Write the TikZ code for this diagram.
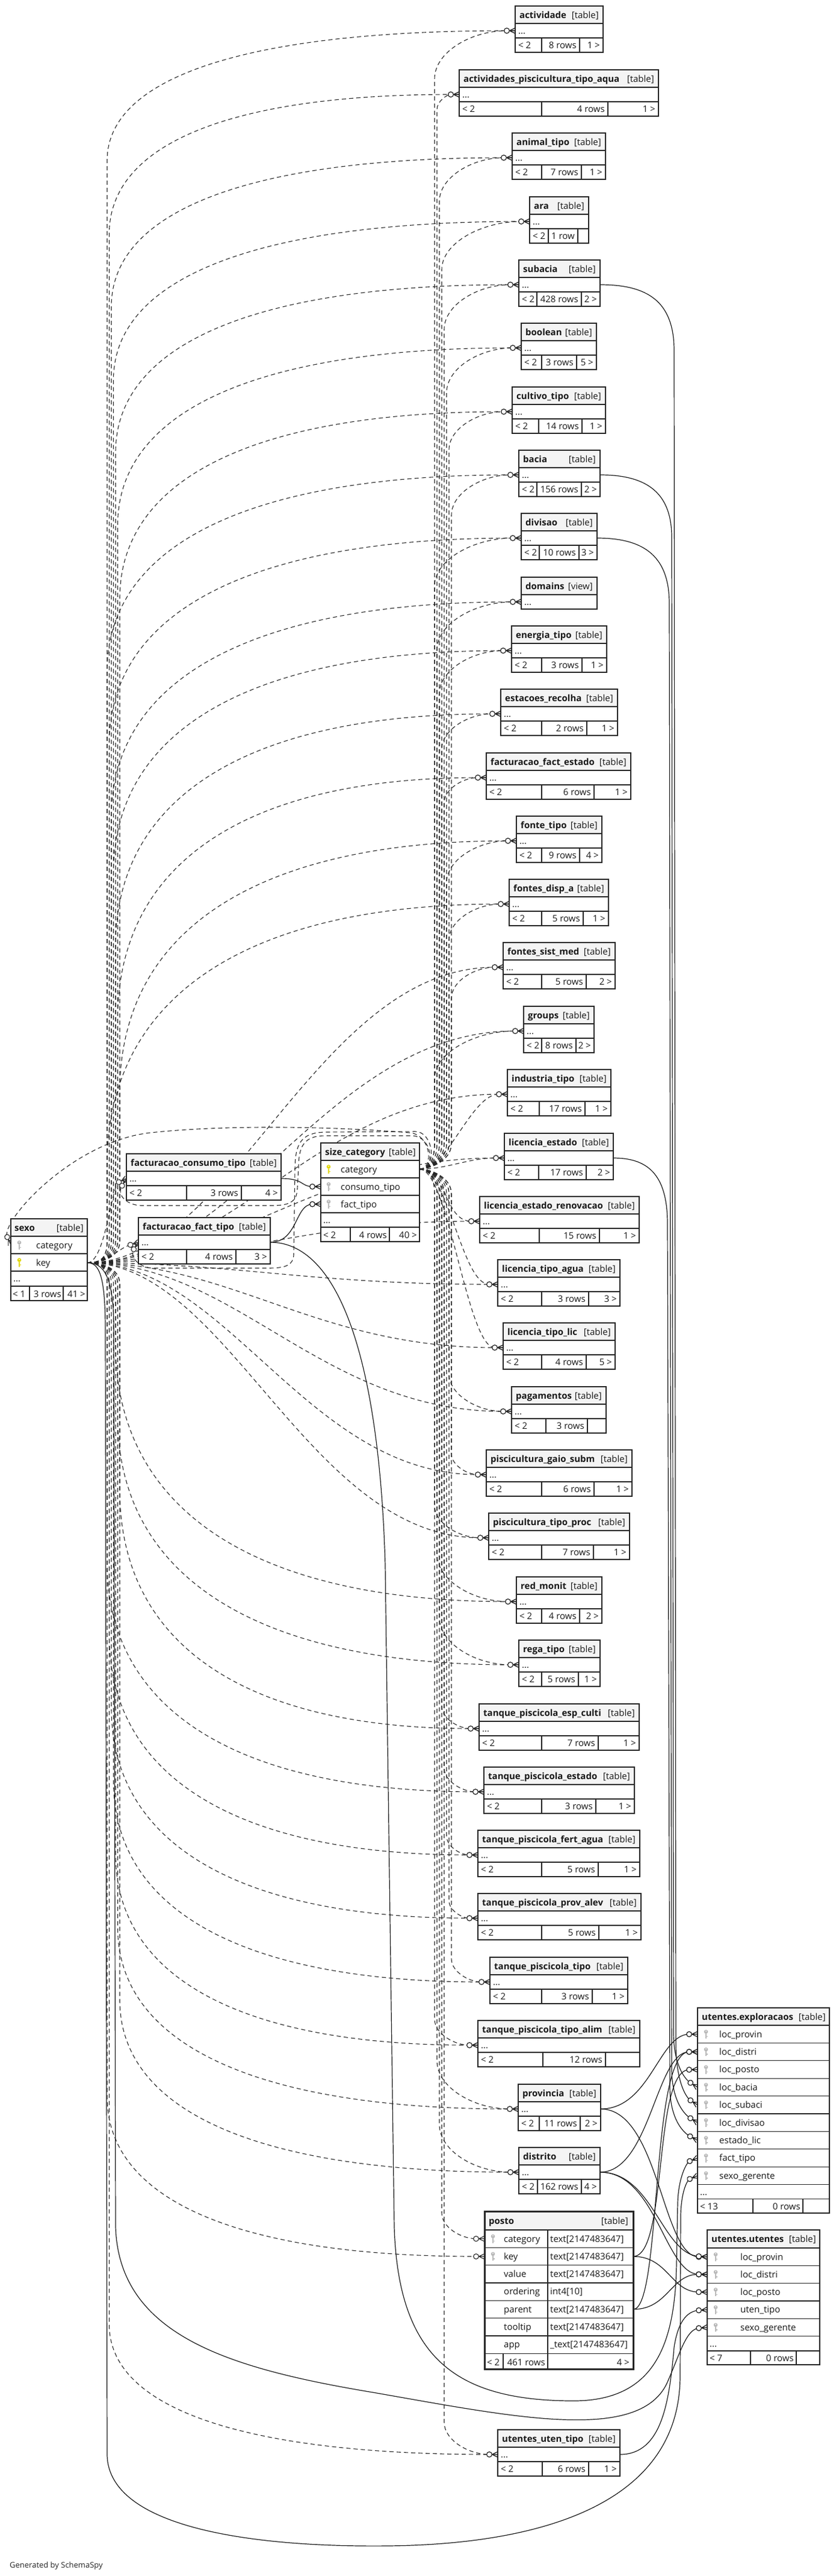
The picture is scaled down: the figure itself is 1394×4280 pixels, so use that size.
\documentclass[tikz,border=0pt]{standalone}
\usepackage{fontspec}
\setmainfont{Open Sans}
\usetikzlibrary{arrows.meta}
\definecolor{keyyel}{RGB}{225,215,0}
\definecolor{keygray}{RGB}{185,185,185}
\definecolor{hdr}{RGB}{244,244,244}
\pgfdeclarelayer{bg}
\pgfdeclarelayer{edges}
\pgfsetlayers{bg,edges,main}
\pgfdeclarearrow{
  name = CrowO,
  setup code = {
    \pgfarrowssettipend{0pt}
    \pgfarrowssetbackend{-18.5pt}
    \pgfarrowssetlineend{-14pt}
    \pgfarrowshullpoint{0pt}{4.5pt}
    \pgfarrowshullpoint{0pt}{-4.5pt}
    \pgfarrowshullpoint{-18.5pt}{4.5pt}
    \pgfarrowshullpoint{-18.5pt}{-4.5pt}
  },
  drawing code = {
    \pgfsetdash{}{0pt}
    \pgfpathmoveto{\pgfqpoint{-9.5pt}{0pt}}\pgfpathlineto{\pgfqpoint{0pt}{4.5pt}}
    \pgfpathmoveto{\pgfqpoint{-9.5pt}{0pt}}\pgfpathlineto{\pgfqpoint{0pt}{-4.5pt}}
    \pgfpathmoveto{\pgfqpoint{-9.5pt}{0pt}}\pgfpathlineto{\pgfqpoint{0pt}{0pt}}
    \pgfusepathqstroke
    \pgfpathcircle{\pgfqpoint{-14pt}{0pt}}{4.3pt}
    \pgfsetfillcolor{white}
    \pgfusepathqfillstroke
  }
}
\tikzset{
  tline/.style={draw=black!85, line width=1.3pt},
  txt/.style={inner sep=0pt, font=\fontsize{15}{18}\selectfont, text=black!90},
  ttl/.style={inner sep=0pt, font=\fontsize{15}{18}\selectfont\bfseries, text=black!90},
  imp/.style={draw=black!85, line width=1.1pt, dash pattern=on 7pt off 5pt, -{CrowO[]}},
  fk/.style={draw=black!90, line width=1.2pt, -{CrowO[]}},
}
\newcommand\keyicon[3]{%
  \draw[#3, line width=2pt] (#1,{#2-1}) -- (#1,{#2+7});
  \draw[#3, line width=1.5pt] (#1,{#2+4}) -- ({#1+2.5},{#2+4});
  \fill[#3] (#1,{#2-4}) circle (3.3);
  \fill[white] (#1,{#2-5}) circle (1);
}
% #1 name #2 title #3 left #4 right #5 top #6 s1 #7 s2 #8 mid #9 right
\newcommand\stbl[9]{%
  \fill[white] (#3,#5) rectangle (#4,{#5+77});
  \fill[hdr] (#3,#5) rectangle (#4,{#5+29});
  \draw[tline] (#3,#5) rectangle (#4,{#5+77});
  \draw[tline] (#3,{#5+29}) -- (#4,{#5+29});
  \draw[tline] (#3,{#5+53}) -- (#4,{#5+53});
  \draw[tline] (#6,{#5+53}) -- (#6,{#5+77});
  \draw[tline] (#7,{#5+53}) -- (#7,{#5+77});
  \node[ttl,anchor=base west] (#1) at ({#3+7},{#5+20}) {#2};
  \node[txt,anchor=base east] (#1-k) at ({#4-7},{#5+20}) {[table]};
  \node[txt,anchor=base west] (#1-d) at ({#3+5},{#5+46}) {...};
  \node[txt,anchor=base west] (#1-f1) at ({#3+5},{#5+70}) {< 2};
  \node[txt,anchor=base east] (#1-f2) at ({#7-5},{#5+70}) {#8};
  \node[txt,anchor=base east] (#1-f3) at ({#4-5},{#5+70}) {#9};
  \coordinate (#1-in) at (#3,{#5+41});
  \coordinate (#1-out) at (#4,{#5+41});
}
\def\sexolist{actividade/856/10/0, apta/763/116/1, animaltipo/851/221/2, ara/880/327/3, subacia/862/432/4, boolean/866/537/5, cultivotipo/851/643/6, bacia/862/748/7, divisao/866/853/8, domains/866/959/9, energiatipo/850/1040/10, estacoes/832/1145/11, factestado/808/1251/12, fontetipo/858/1356/13, fontesdisp/846/1461/14, fontessist/836/1566/15, groups/870/1672/16, industria/843/1777/17, licestado/838/1883/18, licrenov/797/1988/19, lictipoagua/827/2093/20, lictipolic/836/2198/21, pagamentos/850/2304/22, piscgaio/808/2409/23, pisctipo/812/2514/24, redmonit/858/2620/25, regatipo/862/2725/26, tpesp/796/2831/27, tpestado/804/2936/28, tpfert/794/3041/29, tpprov/794/3146/30, tptipo/814/3252/31, tpalim/794/3357/32, provincia/861/3463/33, distrito/862/3568/34, uutipo/827/4037/36, postok/805/3708/35}
\def\sclist{actividade/856/10/0, apta/763/116/1, animaltipo/851/221/2, ara/880/327/3, subacia/862/432/4, boolean/866/537/5, cultivotipo/851/643/6, bacia/862/748/7, divisao/866/853/8, domains/866/959/9, energiatipo/850/1040/10, estacoes/832/1145/11, factestado/808/1251/12, fontetipo/858/1356/13, fontesdisp/846/1461/14, fontessist/836/1566/15, groups/870/1672/16, industria/843/1777/17, licestado/838/1883/18, licrenov/797/1988/19, lictipoagua/827/2093/20, lictipolic/836/2198/21, pagamentos/850/2304/22, piscgaio/808/2409/23, pisctipo/812/2514/24, redmonit/858/2620/25, regatipo/862/2725/26, tpesp/796/2831/27, tpestado/804/2936/28, tpfert/794/3041/29, tpprov/794/3146/30, tptipo/814/3252/31, tpalim/794/3357/32, provincia/861/3463/33, distrito/862/3568/34, uutipo/827/4037/36, postoc/805/3678.6/35}
\begin{document}
\begin{tikzpicture}[x=1pt,y=-1pt]
\begin{pgfonlayer}{bg}
\fill[white] (0,0) rectangle (1394,4280);
\end{pgfonlayer}
\useasboundingbox (0,0) rectangle (1394,4280);

% ---------- column of small tables ----------
\stbl{actividade}{actividade}{856}{1002}{10}{900}{963}{8 rows}{1 >}
\stbl{apta}{actividades\_piscicultura\_tipo\_aqua}{763}{1094}{116}{900}{1010}{4 rows}{1 >}
\stbl{animaltipo}{animal\_tipo}{851}{1006}{221}{900}{966}{7 rows}{1 >}
\stbl{ara}{ara}{880}{978}{327}{911}{960}{1 row}{}
\stbl{subacia}{subacia}{862}{997}{432}{892}{966}{428 rows}{2 >}
\stbl{boolean}{boolean}{866}{991}{537}{900}{958}{3 rows}{5 >}
\stbl{cultivotipo}{cultivo\_tipo}{851}{1006}{643}{895}{967}{14 rows}{1 >}
\stbl{bacia}{bacia}{862}{997}{748}{892}{966}{156 rows}{2 >}
\stbl{divisao}{divisao}{866}{992}{853}{896}{962}{10 rows}{3 >}
% domains view
\fill[white] (866,959) rectangle (992,1012);
\fill[hdr] (866,959) rectangle (992,988);
\draw[tline] (866,959) rectangle (992,1012);
\draw[tline] (866,988) -- (992,988);
\node[ttl,anchor=base west] (domains) at (873,979) {domains};
\node[txt,anchor=base east] (domains-k) at (985,979) {[view]};
\node[txt,anchor=base west] (domains-d) at (871,1005) {...};
\coordinate (domains-in) at (866,1000);
\stbl{energiatipo}{energia\_tipo}{850}{1008}{1040}{900}{967}{3 rows}{1 >}
\stbl{estacoes}{estacoes\_recolha}{832}{1026}{1145}{900}{975}{2 rows}{1 >}
\stbl{factestado}{facturacao\_fact\_estado}{808}{1048}{1251}{900}{987}{6 rows}{1 >}
\stbl{fontetipo}{fonte\_tipo}{858}{1000}{1356}{900}{963}{9 rows}{4 >}
\stbl{fontesdisp}{fontes\_disp\_a}{846}{1011}{1461}{900}{969}{5 rows}{1 >}
\stbl{fontessist}{fontes\_sist\_med}{836}{1022}{1566}{900}{974}{5 rows}{2 >}
\stbl{groups}{groups}{870}{987}{1672}{900}{957}{8 rows}{2 >}
\stbl{industria}{industria\_tipo}{843}{1015}{1777}{896}{972}{17 rows}{1 >}
\stbl{licestado}{licencia\_estado}{838}{1019}{1883}{895}{974}{17 rows}{2 >}
\stbl{licrenov}{licencia\_estado\_renovacao}{797}{1062}{1988}{896}{996}{15 rows}{1 >}
\stbl{lictipoagua}{licencia\_tipo\_agua}{827}{1030}{2093}{900}{978}{3 rows}{3 >}
\stbl{lictipolic}{licencia\_tipo\_lic}{836}{1022}{2198}{900}{974}{4 rows}{5 >}
\stbl{pagamentos}{pagamentos}{850}{1007}{2304}{907}{976}{3 rows}{}
\stbl{piscgaio}{piscicultura\_gaio\_subm}{808}{1050}{2409}{900}{987}{6 rows}{1 >}
\stbl{pisctipo}{piscicultura\_tipo\_proc}{812}{1046}{2514}{900}{986}{7 rows}{1 >}
\stbl{redmonit}{red\_monit}{858}{1000}{2620}{900}{963}{4 rows}{2 >}
\stbl{regatipo}{rega\_tipo}{862}{997}{2725}{900}{961}{5 rows}{1 >}
\stbl{tpesp}{tanque\_piscicola\_esp\_culti}{796}{1062}{2831}{900}{994}{7 rows}{1 >}
\stbl{tpestado}{tanque\_piscicola\_estado}{804}{1054}{2936}{900}{990}{3 rows}{1 >}
\stbl{tpfert}{tanque\_piscicola\_fert\_agua}{794}{1063}{3041}{900}{994}{5 rows}{1 >}
\stbl{tpprov}{tanque\_piscicola\_prov\_alev}{794}{1065}{3146}{900}{995}{5 rows}{1 >}
\stbl{tptipo}{tanque\_piscicola\_tipo}{814}{1043}{3252}{900}{984}{3 rows}{1 >}
\stbl{tpalim}{tanque\_piscicola\_tipo\_alim}{794}{1063}{3357}{902}{1006}{12 rows}{}
\stbl{provincia}{provincia}{861}{998}{3463}{896}{964}{11 rows}{2 >}
\stbl{distrito}{distrito}{862}{997}{3568}{893}{966}{162 rows}{4 >}
\stbl{uutipo}{utentes\_uten\_tipo}{827}{1030}{4037}{901}{978}{6 rows}{1 >}
\stbl{fconsumo}{facturacao\_consumo\_tipo}{210}{467}{1917}{310}{401}{3 rows}{4 >}
\stbl{ffact}{facturacao\_fact\_tipo}{230}{449}{2023}{310}{392}{4 rows}{3 >}

% ---------- sexo ----------
\fill[white] (18,2025) rectangle (145,2161);
\fill[hdr] (18,2025) rectangle (145,2054);
\draw[tline] (18,2025) rectangle (145,2161);
\draw[tline] (18,2054) -- (145,2054) (18,2083) -- (145,2083) (18,2112) -- (145,2112) (18,2137) -- (145,2137) (49,2137) -- (49,2161) (105,2137) -- (105,2161);
\node[ttl,anchor=base west] (sexo) at (24,2045) {sexo};
\node[txt,anchor=base east] (sexo-k) at (139,2045) {[table]};
\keyicon{32}{2068.5}{keygray}
\node[txt,anchor=base west] (sexo-c1) at (60,2074) {category};
\keyicon{32}{2097.5}{keyyel}
\node[txt,anchor=base west] (sexo-c2) at (60,2103) {key};
\node[txt,anchor=base west] (sexo-d) at (22,2129) {...};
\node[txt,anchor=base west] (sexo-f1) at (21,2155) {< 1};
\node[txt,anchor=base east] (sexo-f2) at (102,2155) {3 rows};
\node[txt,anchor=base east] (sexo-f3) at (142,2155) {41 >};
\coordinate (sexokey) at (145,2098);
\coordinate (sexocat) at (18,2068);

% ---------- size_category ----------
\fill[white] (533,1899) rectangle (697,2063);
\fill[hdr] (533,1899) rectangle (697,1928);
\draw[tline] (533,1899) rectangle (697,2063);
\draw[tline] (533,1928) -- (697,1928) (533,1957) -- (697,1957) (533,1986) -- (697,1986) (533,2015) -- (697,2015) (533,2039) -- (697,2039) (582,2039) -- (582,2063) (647,2039) -- (647,2063);
\node[ttl,anchor=base west] (sizecat) at (540,1919) {size\_category};
\node[txt,anchor=base east] (sizecat-k) at (691,1919) {[table]};
\keyicon{546}{1942.5}{keyyel}
\node[txt,anchor=base west] (sizecat-c1) at (566,1948) {category};
\keyicon{546}{1971.5}{keygray}
\node[txt,anchor=base west] (sizecat-c2) at (566,1977) {consumo\_tipo};
\keyicon{546}{2000.5}{keygray}
\node[txt,anchor=base west] (sizecat-c3) at (566,2006) {fact\_tipo};
\node[txt,anchor=base west] (sizecat-d) at (537,2032) {...};
\node[txt,anchor=base west] (sizecat-f1) at (537,2057) {< 2};
\node[txt,anchor=base east] (sizecat-f2) at (643,2057) {4 rows};
\node[txt,anchor=base east] (sizecat-f3) at (693,2057) {40 >};
\coordinate (sccat) at (697,1942.5);
\coordinate (sc-cons) at (533,1971.5);
\coordinate (sc-fact) at (533,2000.5);

% ---------- posto ----------
\fill[white] (805,3674) rectangle (1052,3936);
\fill[hdr] (805,3674) rectangle (1052,3705);
\node[ttl,anchor=base west] (posto) at (812,3695) {posto};
\node[txt,anchor=base east] (posto-k) at (1044,3695) {[table]};
\draw[tline] (805,3705) -- (1052,3705);
\draw[tline] (910,3705) -- (910,3936);
\foreach \i/\n/\tq in {1/category/{text[2147483647]},2/key/{text[2147483647]},3/value/{text[2147483647]},4/ordering/{int4[10]},5/parent/{text[2147483647]},6/tooltip/{text[2147483647]},7/app/{\_text[2147483647]}} {
  \pgfmathsetmacro\rt{3705+29.3*(\i-1)}
  \draw[tline] (805,{\rt+29.3}) -- (1052,{\rt+29.3});
  \node[txt,anchor=base west] (posto-n\i) at (837,{\rt+20}) {\n};
  \node[txt,anchor=base west] (posto-t\i) at (914,{\rt+20}) {\tq};
}
\keyicon{819}{3719.6}{keygray}
\keyicon{819}{3748.9}{keygray}
\draw[tline] (836,3910) -- (836,3936);
\node[txt,anchor=base west] (posto-f1) at (809,3930) {< 2};
\node[txt,anchor=base east] (posto-f2) at (906,3930) {461 rows};
\node[txt,anchor=base east] (posto-f3) at (1046,3930) {4 >};
\draw[tline, line width=3pt] (805,3674) rectangle (1052,3936);
\coordinate (postoc-in) at (805,3719.6);
\coordinate (postok-in) at (805,3749);
\coordinate (posto-key-out) at (1052,3749);
\coordinate (posto-par-out) at (1052,3836.9);

% ---------- utentes.exploracaos ----------
\fill[white] (1159,3336) rectangle (1378,3677);
\fill[hdr] (1159,3336) rectangle (1378,3365);
\draw[tline] (1159,3336) rectangle (1378,3677);
\node[ttl,anchor=base west] (exp) at (1166,3356) {utentes.exploracaos};
\node[txt,anchor=base east] (exp-k) at (1372,3356) {[table]};
\foreach \i/\t in {1/loc\_provin,2/loc\_distri,3/loc\_posto,4/loc\_bacia,5/loc\_subaci,6/loc\_divisao,7/estado\_lic,8/fact\_tipo,9/sexo\_gerente} {
  \pgfmathsetmacro\rt{3365+29.4*(\i-1)}
  \pgfmathsetmacro\rc{\rt+14.7}
  \draw[tline] (1159,\rt) -- (1378,\rt);
  \keyicon{1173}{\rc}{keygray}
  \node[txt,anchor=base west] (exp-t\i) at (1195,{\rt+20}) {\t};
  \coordinate (ex-\i) at (1159,\rc);
}
\draw[tline] (1159,3629.6) -- (1378,3629.6) (1159,3653.5) -- (1378,3653.5) (1251,3653.5) -- (1251,3677) (1334,3653.5) -- (1334,3677);
\node[txt,anchor=base west] (exp-d) at (1163,3647) {...};
\node[txt,anchor=base west] (exp-f1) at (1163,3671) {< 13};
\node[txt,anchor=base east] (exp-f2) at (1330,3671) {0 rows};

% ---------- utentes.utentes ----------
\fill[white] (1175,3705) rectangle (1362,3929);
\fill[hdr] (1175,3705) rectangle (1362,3735);
\draw[tline] (1175,3705) rectangle (1362,3929);
\node[ttl,anchor=base west] (ute) at (1182,3725) {utentes.utentes};
\node[txt,anchor=base east] (ute-k) at (1356,3725) {[table]};
\foreach \i/\t in {1/loc\_provin,2/loc\_distri,3/loc\_posto,4/uten\_tipo,5/sexo\_gerente} {
  \pgfmathsetmacro\rt{3735+29.3*(\i-1)}
  \pgfmathsetmacro\rc{\rt+14.65}
  \draw[tline] (1175,\rt) -- (1362,\rt);
  \keyicon{1189}{\rc}{keygray}
  \node[txt,anchor=base west] (ute-t\i) at (1230,{\rt+20}) {\t};
  \coordinate (ut-\i) at (1175,\rc);
}
\draw[tline] (1175,3881.5) -- (1362,3881.5) (1175,3906) -- (1362,3906) (1247,3906) -- (1247,3929) (1323,3906) -- (1323,3929);
\node[txt,anchor=base west] (ute-d) at (1179,3899) {...};
\node[txt,anchor=base west] (ute-f1) at (1179,3923) {< 7};
\node[txt,anchor=base east] (ute-f2) at (1319,3923) {0 rows};

\node[inner sep=0pt, anchor=base west, font=\fontsize{13}{15}\selectfont, text=black!85] (gen) at (16,4266) {Generated by SchemaSpy};

% ================= edges =================
\begin{pgfonlayer}{edges}
% implied relationships from sexo.key
\foreach \nm/\tx/\tp/\k in \sexolist {
  \pgfmathsetmacro\Ty{\tp+41}
  \pgfmathsetmacro\Vx{178+mod(\k,7)*3.5}
  \pgfmathsetmacro\Ea{216+0.15*(\Ty-52)}
  \pgfmathsetmacro\Eb{216+0.15*(4078-\Ty)}
  \pgfmathtruncatemacro\Md{(\Ty+\Ea<2040) ? 0 : ((\Ty-\Eb>2150) ? 2 : 1)}
  \ifcase\Md
    \draw[imp] (sexokey) .. controls (168,2098) and (\Vx,2090) .. (\Vx,2062) -- (\Vx,{\Ty+\Ea}) .. controls (\Vx,{\Ty+0.35*\Ea}) and ({\Vx+0.35*(\tx-\Vx)},\Ty) .. (\nm-in);
  \or
    \draw[imp] (sexokey) .. controls ({145+0.35*(\tx-145)},2098) and ({145+0.55*(\tx-145)},\Ty) .. (\nm-in);
  \or
    \draw[imp] (sexokey) .. controls (168,2098) and (\Vx,2106) .. (\Vx,2134) -- (\Vx,{\Ty-\Eb}) .. controls (\Vx,{\Ty-0.35*\Eb}) and ({\Vx+0.35*(\tx-\Vx)},\Ty) .. (\nm-in);
  \fi
}
% implied relationships from size_category.category
\foreach \nm/\tx/\tp/\k in \sclist {
  \pgfmathsetmacro\Ty{\tp+41}
  \pgfmathsetmacro\Bx{722+mod(\k,8)*4}
  \pgfmathsetmacro\Rr{max(25,min(80,0.6*(\tx-\Bx)))}
  \pgfmathtruncatemacro\Md{(\Ty<1780) ? 0 : ((\Ty>2260) ? 2 : 1)}
  \ifcase\Md
    \draw[imp] (sccat) .. controls (712,1942) and (\Bx,1930) .. (\Bx,1900) -- (\Bx,{\Ty+\Rr}) .. controls (\Bx,{\Ty+0.45*\Rr}) and ({\tx-0.55*(\tx-\Bx)},\Ty) .. (\nm-in);
  \or
    \draw[imp] (sccat) .. controls (745,1942) and ({\tx-60},\Ty) .. (\nm-in);
  \or
    \draw[imp] (sccat) .. controls (712,1942) and (\Bx,1954) .. (\Bx,1984) -- (\Bx,{\Ty-\Rr}) .. controls (\Bx,{\Ty-0.45*\Rr}) and ({\tx-0.55*(\tx-\Bx)},\Ty) .. (\nm-in);
  \fi
}
% special implied edges
\draw[imp] (sexokey) .. controls (175,2098) and (185,1970) .. (fconsumo-in);
\draw[imp] (sexokey) .. controls (180,2098) and (195,2075) .. (ffact-in);
\draw[imp] (sccat) .. controls (722,1942) and (716,1884) .. (680,1882) .. controls (560,1872) and (380,1868) .. (250,1882) .. controls (120,1896) and (0,2030) .. (sexocat);
\draw[imp] (sccat) .. controls (725,1942) and (718,1888) .. (685,1887) -- (540,1887) .. controls (505,1887) and (496,1905) .. (496,1940) -- (494,1975) .. controls (493,1998) and (480,2003) .. (450,2003) -- (235,2003) .. controls (215,2003) and (192,1988) .. (fconsumo-in);
\draw[imp] (sccat) .. controls (728,1942) and (720,1880) .. (690,1880) -- (540,1881) .. controls (500,1882) and (490,1900) .. (490,1945) -- (488,2085) .. controls (487,2102) and (475,2107) .. (445,2107) -- (255,2107) .. controls (232,2107) and (214,2088) .. (ffact-in);

% foreign keys (solid)
\draw[fk] (fconsumo-out) .. controls (505,1958) and (500,1971.5) .. (sc-cons);
\draw[fk] (ffact-out) .. controls (495,2064) and (490,2001) .. (sc-fact);
\draw[fk] (subacia-out) .. controls (1075,473) and (1119,500) .. (1120,580) -- (1123,3400) .. controls (1124,3460) and (1140,3485) .. (ex-5);
\draw[fk] (bacia-out) .. controls (1070,789) and (1115,815) .. (1116,890) -- (1119,3380) .. controls (1120,3435) and (1140,3456) .. (ex-4);
\draw[fk] (divisao-out) .. controls (1065,894) and (1111,920) .. (1112,1000) -- (1116,3440) .. controls (1117,3495) and (1140,3515) .. (ex-6);
\draw[fk] (licestado-out) .. controls (1075,1924) and (1108,1950) .. (1109,2030) -- (1113,3470) .. controls (1114,3525) and (1138,3545) .. (ex-7);
\draw[fk] (provincia-out) .. controls (1080,3504) and (1095,3380) .. (ex-1);
\draw[fk] (provincia-out) .. controls (1095,3504) and (1100,3750) .. (ut-1);
\draw[fk] (distrito-out) .. controls (1080,3609) and (1090,3409) .. (ex-2);
\draw[fk] (distrito-out) .. controls (1090,3609) and (1105,3778) .. (ut-2);
\draw[fk] (distrito-out) .. controls (1085,3609) and (1100,3745) .. (ut-1);
\draw[fk] (posto-key-out) .. controls (1110,3749) and (1085,3440) .. (ex-3);
\draw[fk] (posto-key-out) .. controls (1110,3749) and (1115,3808) .. (ut-3);
\draw[fk] (posto-par-out) .. controls (1110,3837) and (1115,3778) .. (ut-2);
\draw[fk] (posto-par-out) .. controls (1100,3837) and (1080,3409) .. (ex-2);
\draw[fk] (uutipo-out) .. controls (1100,4078) and (1112,3990) .. (1120,3900) .. controls (1126,3860) and (1140,3840) .. (ut-4);
\draw[fk] (sexokey) .. controls (172,2098) and (188,2120) .. (189,2200) -- (192,3700) .. controls (198,3880) and (380,3935) .. (620,3975) .. controls (850,4015) and (1060,4060) .. (1108,3960) .. controls (1130,3910) and (1140,3870) .. (ut-5);
\draw[fk] (sexokey) .. controls (165,2098) and (174,2120) .. (175,2200) -- (178,4080) .. controls (182,4200) and (420,4232) .. (640,4230) .. controls (900,4228) and (1128,4160) .. (1130,3950) -- (1131,3680) .. controls (1132,3640) and (1142,3622) .. (ex-9);
\draw[fk] (ffact-out) .. controls (560,2064) and (630,2250) .. (640,2600) -- (655,3700) .. controls (662,3920) and (760,3988) .. (950,3989) .. controls (1085,3990) and (1122,3900) .. (1124,3760) -- (1126,3660) .. controls (1127,3620) and (1140,3593) .. (ex-8);
\end{pgfonlayer}
\end{tikzpicture}
\end{document}
